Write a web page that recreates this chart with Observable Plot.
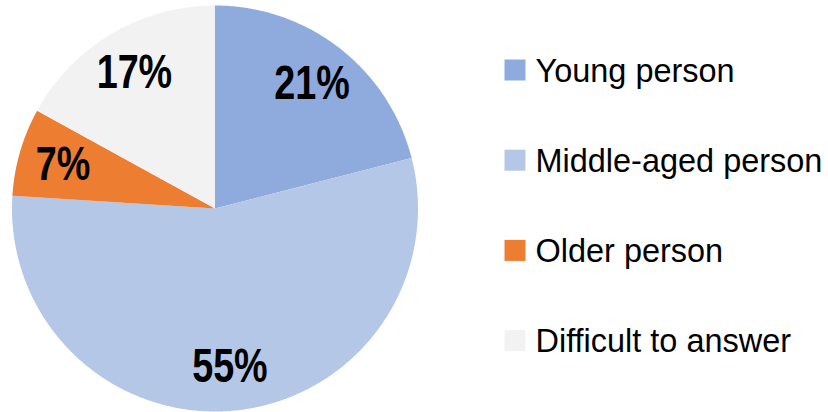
<!DOCTYPE html>
<html>
<head>
<meta charset="utf-8">
<script src="https://cdn.jsdelivr.net/npm/d3@7"></script>
<script src="https://cdn.jsdelivr.net/npm/@observablehq/plot@0.6"></script>
<style>
  html, body { margin: 0; padding: 0; background: #fff; }
  #chart { width: 828px; height: 412px; }
</style>
</head>
<body>
<div id="chart"></div>
<script>
// ---- data ----
const categories = ["Young person", "Middle-aged person", "Older person", "Difficult to answer"];
const values = [21, 55, 7, 17];
const labels = ["21%", "55%", "7%", "17%"];
const colors = ["#8FAADC", "#B4C7E7", "#ED7D31", "#F2F2F2"];

// ---- layout (pixels) ----
const W = 828, H = 412;
const cx = 214.5, cy = 208, R = 203;

// pie geometry via d3.pie (clockwise from 12 o'clock)
const arcs = d3.pie().sort(null).startAngle(0).endAngle(2 * Math.PI)(values);

const slicePts = [];
arcs.forEach((a, i) => {
  const n = Math.max(4, Math.ceil((a.endAngle - a.startAngle) / 0.01));
  slicePts.push({cat: categories[i], x: 0, y: 0});
  for (let k = 0; k <= n; k++) {
    const t = a.startAngle + (a.endAngle - a.startAngle) * k / n;
    slicePts.push({cat: categories[i], x: Math.sin(t), y: Math.cos(t)});
  }
  slicePts.push({cat: categories[i], x: 0, y: 0});
});

const labelData = arcs.map((a, i) => {
  const m = (a.startAngle + a.endAngle) / 2;
  return {text: labels[i], x: 0.78 * Math.sin(m), y: 0.78 * Math.cos(m)};
});

const legX = (514.5 - cx) / R, legTX = (535 - cx) / R;
const legY0 = (cy - 69.5) / R, legStep = 90.2 / R;
const legend = categories.map((c, i) => ({cat: c, x: legX, tx: legTX, y: legY0 - i * legStep}));

const chart = Plot.plot({
  width: W, height: H,
  marginLeft: 0, marginRight: 0, marginTop: 0, marginBottom: 0,
  x: {domain: [-cx / R, (W - cx) / R], axis: null},
  y: {domain: [-(H - cy) / R, cy / R], axis: null},
  color: {domain: categories, range: colors},
  style: {background: "#fff"},
  marks: [
    Plot.line(slicePts, {x: "x", y: "y", z: "cat", fill: "cat", stroke: null, curve: "linear"}),
    Plot.text(labelData, {x: "x", y: "y", text: "text", fontSize: 49, fontWeight: "bold",
      fontFamily: "'Liberation Sans', Arial, sans-serif", fill: "#000"}),
    Plot.dot(legend, {x: "x", y: "y", fill: "cat", symbol: "square", r: 21 / Math.sqrt(Math.PI), stroke: null}),
    Plot.text(legend, {x: "tx", y: "y", text: "cat", textAnchor: "start", fontSize: 34,
      fontFamily: "'Liberation Sans', Arial, sans-serif", fill: "#000", dy: 1})
  ]
});
// condense glyphs to mimic the narrow typeface of the original
const textGroups = chart.querySelectorAll("g[aria-label='text']");
const scales = ["scale(0.77,1)", "scale(0.955,1)"];
textGroups.forEach((g, gi) => {
  g.querySelectorAll("text").forEach(t => {
    const tr = t.getAttribute("transform") || "";
    t.setAttribute("transform", tr + " " + scales[gi]);
  });
});
document.getElementById("chart").appendChild(chart);
</script>
</body>
</html>
